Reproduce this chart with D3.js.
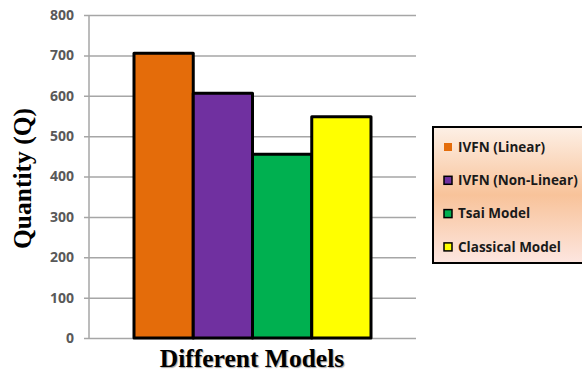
<!DOCTYPE html>
<html>
<head>
<meta charset="utf-8">
<script src="https://cdn.jsdelivr.net/npm/d3@7"></script>
<style>
  html, body { margin: 0; padding: 0; background: #fff; }
  svg { display: block; }
</style>
</head>
<body>
<svg id="chart" width="582" height="374"></svg>
<script>
// Chart data
const models = ["IVFN (Linear)", "IVFN (Non-Linear)", "Tsai Model", "Classical Model"];
const quantities = [705, 606, 455, 548];
const colors = ["#e46c0a", "#7030a0", "#00b050", "#ffff00"];
const yTicks = [0, 100, 200, 300, 400, 500, 600, 700, 800];

const svg = d3.select("#chart");

const plot = { left: 89, right: 416, top: 15, bottom: 338 };

const y = d3.scaleLinear().domain([0, 800]).range([plot.bottom, plot.top]);
const x = d3.scaleBand().domain(models).range([134, 371]).paddingInner(0).paddingOuter(0);

// Gridlines and ticks
const yAxis = d3.axisLeft(y)
  .tickValues(yTicks)
  .tickSize(-(plot.right - plot.left))
  .tickSizeOuter(0)
  .tickPadding(10)
  .tickFormat(d3.format("d"));

const gAxis = svg.append("g")
  .attr("transform", `translate(${plot.left},0)`)
  .call(yAxis);
gAxis.select(".domain").remove();
gAxis.selectAll(".tick line")
  .attr("x1", -5)
  .attr("stroke", "#a6a6a6")
  .attr("stroke-width", 1.5);
gAxis.selectAll(".tick text")
  .attr("fill", "#595959")
  .attr("font-family", "'Open Sans', 'Liberation Sans', sans-serif")
  .attr("font-weight", "bold")
  .attr("font-size", 14)
  .attr("x", -15);

// Vertical axis line
svg.append("line")
  .attr("x1", plot.left).attr("x2", plot.left)
  .attr("y1", plot.top).attr("y2", plot.bottom)
  .attr("stroke", "#a6a6a6")
  .attr("stroke-width", 1.5);

// Bars
svg.append("g").selectAll("rect")
  .data(models)
  .join("rect")
  .attr("x", d => x(d))
  .attr("y", (d, i) => y(quantities[i]))
  .attr("width", x.bandwidth())
  .attr("height", (d, i) => y(0) - y(quantities[i]))
  .attr("fill", (d, i) => colors[i])
  .attr("stroke", "#000")
  .attr("stroke-width", 3)
  .attr("stroke-linejoin", "round");

// Axis titles
svg.append("text")
  .attr("transform", `translate(31,${(plot.top + plot.bottom) / 2 + 2}) rotate(-90)`)
  .attr("text-anchor", "middle")
  .attr("font-family", "'Liberation Serif', 'DejaVu Serif', serif")
  .attr("font-weight", "bold")
  .attr("font-size", 25.5)
  .attr("fill", "#000")
  .text("Quantity (Q)");

svg.append("text")
  .attr("x", 252)
  .attr("y", 367)
  .attr("text-anchor", "middle")
  .attr("font-family", "'Liberation Serif', 'DejaVu Serif', serif")
  .attr("font-weight", "bold")
  .attr("font-size", 25.5)
  .attr("fill", "#000")
  .style("text-shadow", "1px 1px 1px rgba(0,0,0,0.35)")
  .text("Different Models");

// Legend
const defs = svg.append("defs");
const grad = defs.append("linearGradient")
  .attr("id", "legendFill")
  .attr("x1", 0).attr("y1", 0).attr("x2", 0).attr("y2", 1);
grad.append("stop").attr("offset", "0%").attr("stop-color", "#fdf0e6");
grad.append("stop").attr("offset", "50%").attr("stop-color", "#f8c39a");
grad.append("stop").attr("offset", "100%").attr("stop-color", "#fde6e0");

const legend = svg.append("g").attr("transform", "translate(433,127)");
legend.append("rect")
  .attr("x", 0).attr("y", 0)
  .attr("width", 160).attr("height", 136)
  .attr("fill", "url(#legendFill)")
  .attr("stroke", "#000")
  .attr("stroke-width", 2);

const rows = legend.selectAll("g.item")
  .data(models)
  .join("g")
  .attr("class", "item")
  .attr("transform", (d, i) => `translate(10,${20 + i * 33.3})`);

rows.append("rect")
  .attr("x", 1).attr("y", -4)
  .attr("width", 8).attr("height", 8)
  .attr("fill", (d, i) => colors[i])
  .attr("stroke", (d, i) => i === 0 ? "none" : "#000")
  .attr("stroke-width", 1.5);

rows.append("text")
  .attr("x", 15)
  .attr("y", 0)
  .attr("dy", "0.35em")
  .attr("font-family", "'Open Sans', 'Liberation Sans', sans-serif")
  .attr("font-weight", "bold")
  .attr("font-size", 13.5)
  .attr("fill", "#1a1a1a")
  .text(d => d);
</script>
</body>
</html>
